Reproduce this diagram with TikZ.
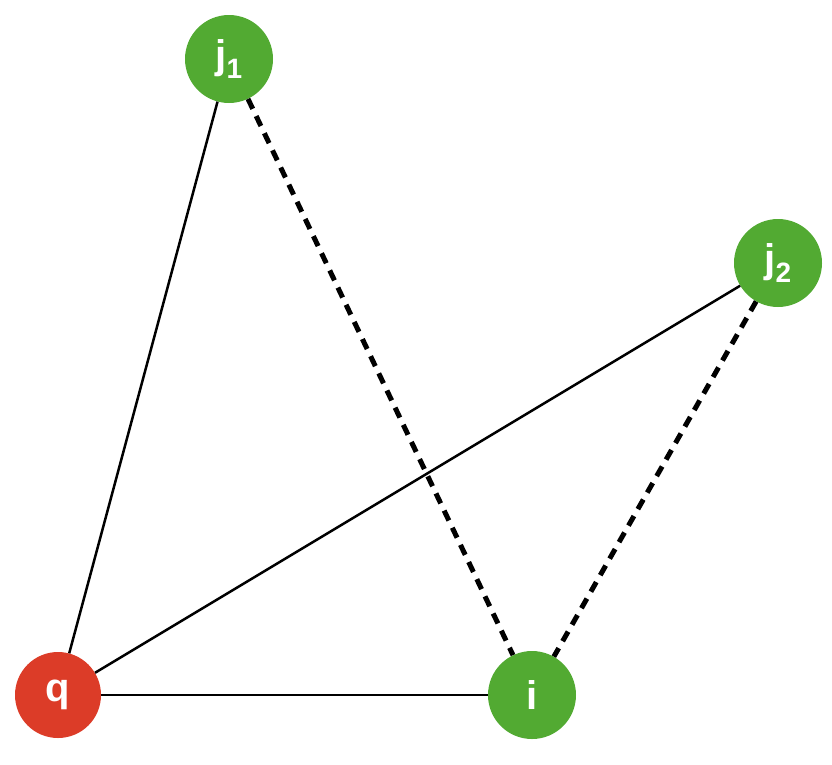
\documentclass[tikz,border=0pt]{standalone}
\usepackage{fontspec}
\setmainfont{Liberation Sans}
\definecolor{gn}{RGB}{82,170,50}
\definecolor{rd}{RGB}{220,60,40}
\begin{document}
\begin{tikzpicture}[x=1pt,y=-1pt,
  vtx/.style={circle,minimum size=88pt,inner sep=0pt,text=white,font=\fontsize{40}{40}\selectfont\bfseries},
  solidedge/.style={line width=2.5pt},
  dashedge/.style={line width=5pt,dash pattern=on 11pt off 8pt}]
\useasboundingbox (0,0) rectangle (832,764);
\node[vtx,fill=gn] (j1) at (229,59) {j\textsubscript{1}};
\node[vtx,fill=gn] (j2) at (778,263) {j\textsubscript{2}};
\node[vtx,fill=rd,minimum size=86pt] (q) at (58,695) {q};
\node[vtx,fill=gn] (i) at (532,695) {i};
\draw[solidedge] (q) -- (j1);
\draw[solidedge] (q) -- (j2);
\draw[solidedge] (q) -- (i);
\draw[dashedge] (j1) -- (i);
\draw[dashedge] (j2) -- (i);
\end{tikzpicture}
\end{document}
